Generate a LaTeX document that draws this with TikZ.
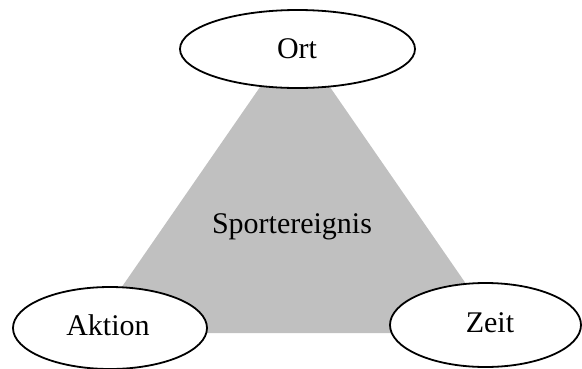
\documentclass[tikz,border=0pt]{standalone}
\usepackage{fontspec}
\setmainfont{Liberation Serif}
\usetikzlibrary{shapes.geometric}
\definecolor{fieldgray}{HTML}{C0C0C0}
\begin{document}
\begin{tikzpicture}[x=1pt,y=-1pt,
  label text/.style={font=\fontsize{30}{36}\selectfont,anchor=base,inner sep=0pt},
  topic/.style={ellipse,draw=black,line width=1.8pt,fill=white,inner sep=0pt}]
\useasboundingbox (0,0) rectangle (582,368);
\clip (0,0) rectangle (582,368);
% shaded field between the three aspects
\fill[fieldgray] (287,48) -- (303,48) -- (500,333) -- (90,333) -- cycle;
\node[label text] (event) at (292,233) {Sportereignis};
% the three aspects
\node[topic,minimum width=235pt,minimum height=78pt] (ort) at (297.5,49) {};
\node[label text] (ortlabel) at (297,58) {Ort};
\node[topic,minimum width=194pt,minimum height=82pt] (aktion) at (110,328) {};
\node[label text] (aktionlabel) at (108,335) {Aktion};
\node[topic,minimum width=191pt,minimum height=84pt] (zeit) at (485.5,325) {};
\node[label text] (zeitlabel) at (490,332) {Zeit};
\end{tikzpicture}
\end{document}
